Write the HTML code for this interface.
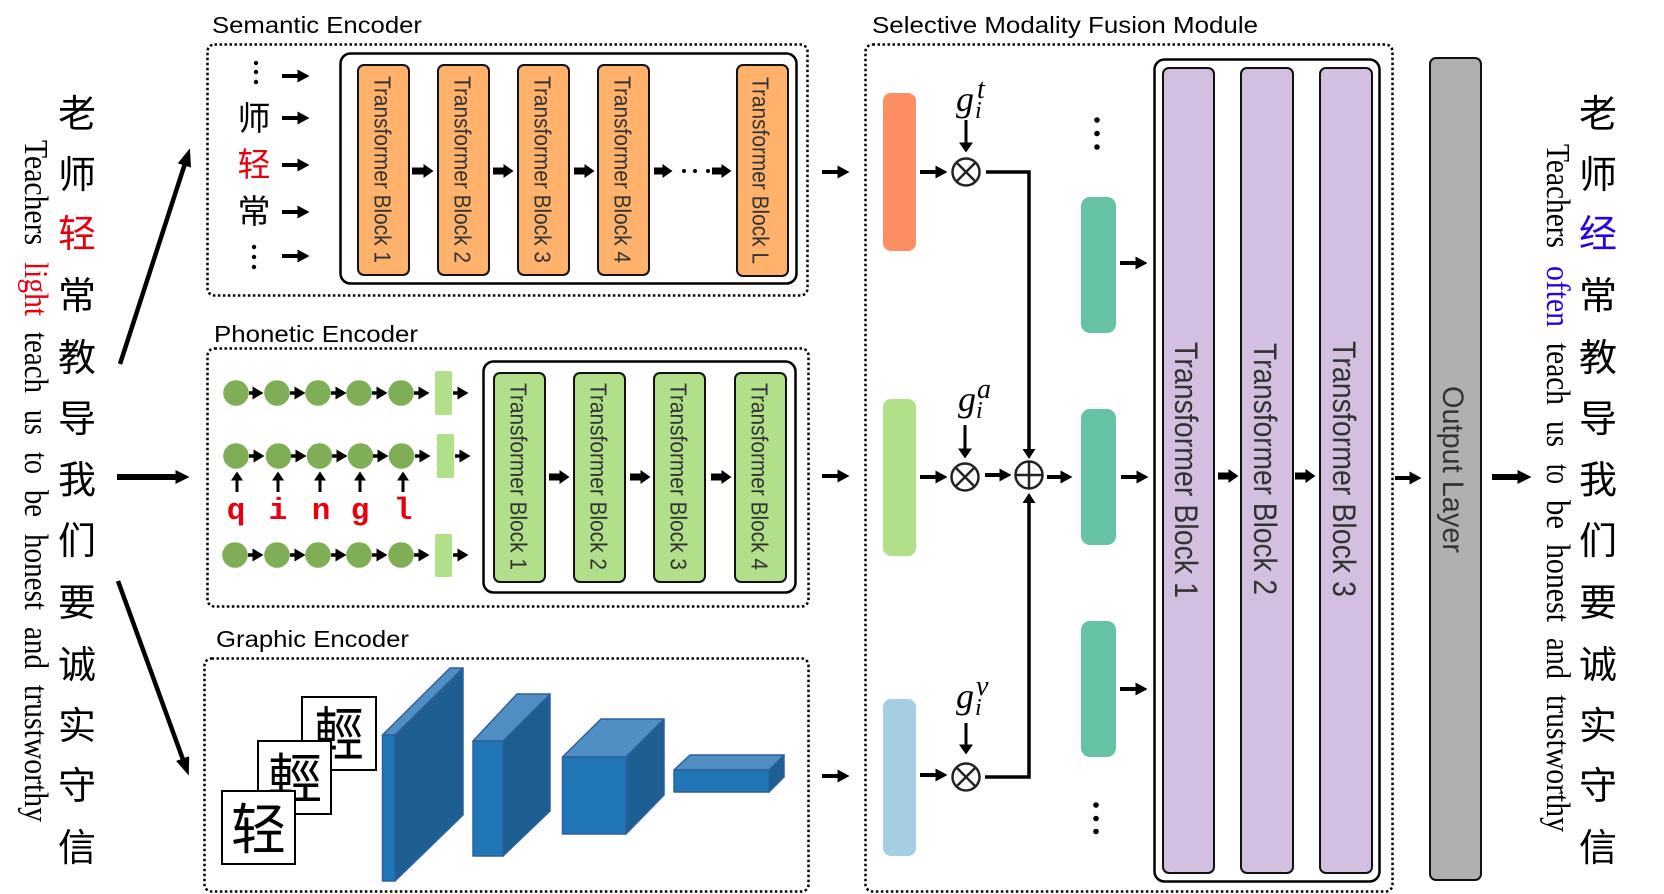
<!DOCTYPE html>
<html><head><meta charset="utf-8"><style>
html,body{margin:0;padding:0;background:#fff;width:1664px;height:894px;overflow:hidden}
svg{display:block}
.d{fill:none;stroke:#000;stroke-width:2.5;stroke-dasharray:2.5 2.5}
.o{fill:none;stroke:#000;stroke-width:2.5}
.b{stroke:#111;stroke-width:2}
.t{font-family:"Liberation Sans",sans-serif;fill:#333}
.h{font-family:"Liberation Sans",sans-serif;fill:#000;font-size:23px}
.c{font-family:"Liberation Sans","Noto Sans CJK SC",sans-serif;font-size:38px;text-anchor:middle;fill:#000}
.e{font-family:"Liberation Serif",serif;font-size:34px;fill:#000}
.m{font-family:"Liberation Serif",serif;font-style:italic;fill:#000}
.p{font-family:"Liberation Mono",monospace;font-weight:bold;font-size:31px;fill:#e8000f;text-anchor:middle}
.a{stroke:#000;stroke-width:4;marker-end:url(#a)}
.f{stroke:#000;stroke-width:7;marker-end:url(#f)}
.s{stroke:#000;stroke-width:3.500;marker-end:url(#s)}
.u{stroke:#000;stroke-width:3;marker-end:url(#u)}
.g{stroke:#000;stroke-width:3;marker-end:url(#g)}
.l{stroke:#000;stroke-width:6;marker-end:url(#l)}
.x{stroke:#000;stroke-width:4.500;marker-end:url(#x)}
.k{fill:none;stroke:#222;stroke-width:2.5}
</style></head><body>
<svg width="1664" height="894" viewBox="0 0 1664 894" xmlns="http://www.w3.org/2000/svg">
<defs>
<marker id="a" markerUnits="userSpaceOnUse" markerWidth="12" markerHeight="13" refX="0.5" refY="6.5" orient="auto"><path d="M0 0L12 6.5L0 13z"/></marker>
<marker id="f" markerUnits="userSpaceOnUse" markerWidth="10" markerHeight="14" refX="0.5" refY="7" orient="auto"><path d="M0 0L10 7L0 14z"/></marker>
<marker id="s" markerUnits="userSpaceOnUse" markerWidth="11" markerHeight="13" refX="2.5" refY="6.5" orient="auto"><path d="M0 0L11 6.5L0 13z"/></marker>
<marker id="u" markerUnits="userSpaceOnUse" markerWidth="9" markerHeight="12" refX="1.5" refY="6" orient="auto"><path d="M0 0L9 6L0 12z"/></marker>
<marker id="g" markerUnits="userSpaceOnUse" markerWidth="10" markerHeight="14" refX="1.5" refY="7" orient="auto"><path d="M0 0L10 7L0 14z"/></marker>
<marker id="l" markerUnits="userSpaceOnUse" markerWidth="14" markerHeight="14" refX="0.5" refY="7" orient="auto"><path d="M0 0L14 7L0 14z"/></marker>
<marker id="x" markerUnits="userSpaceOnUse" markerWidth="18" markerHeight="14" refX="0.5" refY="7" orient="auto"><path d="M0 0L18 7L0 14z"/></marker>
</defs>

<!-- left chinese -->
<text class="c" x="77" y="127">老</text><text class="c" x="77" y="188">师</text><text class="c" x="77" y="247" style="fill:#e8000f">轻</text><text class="c" x="77" y="309">常</text><text class="c" x="77" y="371">教</text><text class="c" x="77" y="432">导</text><text class="c" x="77" y="493">我</text><text class="c" x="77" y="554">们</text><text class="c" x="77" y="616">要</text><text class="c" x="77" y="678">诚</text><text class="c" x="77" y="739">实</text><text class="c" x="77" y="799">守</text><text class="c" x="77" y="861">信</text>
<!-- right chinese -->
<text class="c" x="1598" y="127">老</text><text class="c" x="1598" y="188">师</text><text class="c" x="1598" y="247" style="fill:#2a00e8">经</text><text class="c" x="1598" y="309">常</text><text class="c" x="1598" y="371">教</text><text class="c" x="1598" y="432">导</text><text class="c" x="1598" y="493">我</text><text class="c" x="1598" y="554">们</text><text class="c" x="1598" y="616">要</text><text class="c" x="1598" y="678">诚</text><text class="c" x="1598" y="739">实</text><text class="c" x="1598" y="799">守</text><text class="c" x="1598" y="861">信</text>

<!-- left english -->
<g class="e">
<text transform="translate(25,140) rotate(90)" textLength="105" lengthAdjust="spacingAndGlyphs">Teachers</text>
<text transform="translate(25,262) rotate(90)" textLength="54" lengthAdjust="spacingAndGlyphs" style="fill:#e8000f">light</text>
<text transform="translate(25,332) rotate(90)" textLength="61" lengthAdjust="spacingAndGlyphs">teach</text>
<text transform="translate(25,410) rotate(90)" textLength="25" lengthAdjust="spacingAndGlyphs">us</text>
<text transform="translate(25,452) rotate(90)" textLength="22" lengthAdjust="spacingAndGlyphs">to</text>
<text transform="translate(25,490) rotate(90)" textLength="27" lengthAdjust="spacingAndGlyphs">be</text>
<text transform="translate(25,534) rotate(90)" textLength="76" lengthAdjust="spacingAndGlyphs">honest</text>
<text transform="translate(25,627) rotate(90)" textLength="42" lengthAdjust="spacingAndGlyphs">and</text>
<text transform="translate(25,685) rotate(90)" textLength="137" lengthAdjust="spacingAndGlyphs">trustworthy</text>
</g>
<!-- right english -->
<g class="e">
<text transform="translate(1547,144) rotate(90)" textLength="104" lengthAdjust="spacingAndGlyphs">Teachers</text>
<text transform="translate(1547,266) rotate(90)" textLength="61" lengthAdjust="spacingAndGlyphs" style="fill:#2a00e8">often</text>
<text transform="translate(1547,343) rotate(90)" textLength="62" lengthAdjust="spacingAndGlyphs">teach</text>
<text transform="translate(1547,421) rotate(90)" textLength="26" lengthAdjust="spacingAndGlyphs">us</text>
<text transform="translate(1547,464) rotate(90)" textLength="20" lengthAdjust="spacingAndGlyphs">to</text>
<text transform="translate(1547,500) rotate(90)" textLength="29" lengthAdjust="spacingAndGlyphs">be</text>
<text transform="translate(1547,544) rotate(90)" textLength="78" lengthAdjust="spacingAndGlyphs">honest</text>
<text transform="translate(1547,638) rotate(90)" textLength="41" lengthAdjust="spacingAndGlyphs">and</text>
<text transform="translate(1547,695) rotate(90)" textLength="137" lengthAdjust="spacingAndGlyphs">trustworthy</text>
</g>

<!-- big input arrows -->
<line class="x" x1="120" y1="364" x2="184.500" y2="165"/>
<line class="l" x1="117" y1="477" x2="176" y2="477"/>
<line class="x" x1="118" y1="581" x2="182.800" y2="759"/>

<!-- titles -->
<text class="h" x="212" y="33" textLength="210" lengthAdjust="spacingAndGlyphs">Semantic Encoder</text>
<text class="h" x="214" y="342" textLength="204" lengthAdjust="spacingAndGlyphs">Phonetic Encoder</text>
<text class="h" x="216" y="647" textLength="193" lengthAdjust="spacingAndGlyphs">Graphic Encoder</text>
<text class="h" x="872" y="33" textLength="386" lengthAdjust="spacingAndGlyphs">Selective Modality Fusion Module</text>

<!-- dashed boxes -->
<rect class="d" x="207.500" y="44.500" width="600" height="251" rx="7"/>
<rect class="d" x="207.500" y="348.500" width="601" height="258" rx="7"/>
<rect class="d" x="204.500" y="658.500" width="604" height="233" rx="7"/>
<rect class="d" x="865.500" y="44.500" width="527" height="847" rx="7"/>

<!-- semantic -->
<rect class="o" x="340.500" y="53.500" width="456" height="230" rx="10"/>
<g fill="#ffb26b">
<rect class="b" x="358" y="65" width="51" height="210" rx="6"/>
<rect class="b" x="438" y="65" width="51" height="210" rx="6"/>
<rect class="b" x="518" y="65" width="51" height="210" rx="6"/>
<rect class="b" x="598" y="65" width="51" height="210" rx="6"/>
<rect class="b" x="737" y="65" width="51" height="211" rx="6"/>
</g>
<g class="t" font-size="23">
<text transform="translate(374.500,76) rotate(90)" textLength="187" lengthAdjust="spacingAndGlyphs">Transformer  Block 1</text>
<text transform="translate(454.500,76) rotate(90)" textLength="187" lengthAdjust="spacingAndGlyphs">Transformer  Block 2</text>
<text transform="translate(534.500,76) rotate(90)" textLength="187" lengthAdjust="spacingAndGlyphs">Transformer  Block 3</text>
<text transform="translate(614.500,76) rotate(90)" textLength="187" lengthAdjust="spacingAndGlyphs">Transformer  Block 4</text>
<text transform="translate(752.500,77) rotate(90)" textLength="187" lengthAdjust="spacingAndGlyphs">Transformer  Block L</text>
</g>
<line class="f" x1="412" y1="171" x2="424" y2="171"/>
<line class="f" x1="493" y1="171" x2="504" y2="171"/>
<line class="f" x1="574" y1="171" x2="585" y2="171"/>
<line class="f" x1="654" y1="171" x2="663" y2="171"/>
<line class="f" x1="712" y1="171" x2="722" y2="171"/>
<circle cx="684" cy="171" r="2"/><circle cx="695" cy="171" r="2"/><circle cx="708" cy="171" r="2"/>

<line class="a" x1="282" y1="76" x2="298" y2="76"/>
<line class="a" x1="282" y1="118" x2="298" y2="118"/>
<line class="a" x1="282" y1="165" x2="298" y2="165"/>
<line class="a" x1="282" y1="212" x2="298" y2="212"/>
<line class="a" x1="282" y1="256" x2="298" y2="256"/>
<circle cx="256" cy="63" r="2.200"/><circle cx="256" cy="72" r="2.200"/><circle cx="256" cy="82" r="2.200"/>
<circle cx="254" cy="247" r="2.200"/><circle cx="254" cy="257" r="2.200"/><circle cx="254" cy="267" r="2.200"/>
<text class="c" x="254" y="130" style="font-size:33px">师</text>
<text class="c" x="254" y="176" style="font-size:33px;fill:#e8000f">轻</text>
<text class="c" x="254" y="223" style="font-size:33px">常</text>

<!-- phonetic -->
<rect class="o" x="483.500" y="361.500" width="312" height="231" rx="10"/>
<g fill="#b2df8a">
<rect class="b" x="494" y="373" width="51" height="209" rx="6"/>
<rect class="b" x="574" y="373" width="51" height="209" rx="6"/>
<rect class="b" x="654" y="373" width="51" height="209" rx="6"/>
<rect class="b" x="735" y="373" width="51" height="209" rx="6"/>
</g>
<g class="t" font-size="23">
<text transform="translate(510.500,383) rotate(90)" textLength="187" lengthAdjust="spacingAndGlyphs">Transformer  Block 1</text>
<text transform="translate(590.500,383) rotate(90)" textLength="187" lengthAdjust="spacingAndGlyphs">Transformer  Block 2</text>
<text transform="translate(670.500,383) rotate(90)" textLength="187" lengthAdjust="spacingAndGlyphs">Transformer  Block 3</text>
<text transform="translate(751.500,383) rotate(90)" textLength="187" lengthAdjust="spacingAndGlyphs">Transformer  Block 4</text>
</g>
<line class="f" x1="549" y1="477" x2="560" y2="477"/>
<line class="f" x1="630" y1="477" x2="641" y2="477"/>
<line class="f" x1="711" y1="477" x2="722" y2="477"/>

<g fill="#7fae56">
<circle cx="236" cy="393" r="12.800"/><circle cx="277" cy="393" r="12.800"/><circle cx="318" cy="393" r="12.800"/><circle cx="359" cy="393" r="12.800"/><circle cx="401" cy="393" r="12.800"/>
<circle cx="236" cy="456" r="12.800"/><circle cx="278.500" cy="456" r="12.800"/><circle cx="319.500" cy="456" r="12.800"/><circle cx="360.500" cy="456" r="12.800"/><circle cx="401.500" cy="456" r="12.800"/>
<circle cx="235" cy="555" r="12.800"/><circle cx="277" cy="555" r="12.800"/><circle cx="318" cy="555" r="12.800"/><circle cx="359" cy="555" r="12.800"/><circle cx="401" cy="555" r="12.800"/>
</g>
<g fill="#b2df8a">
<rect x="435" y="371" width="17" height="44" rx="2"/>
<rect x="437" y="434" width="17" height="44" rx="2"/>
<rect x="435" y="534" width="17" height="43" rx="2"/>
</g>
<line class="s" x1="249" y1="393" x2="255" y2="393"/><line class="s" x1="290" y1="393" x2="297" y2="393"/><line class="s" x1="331" y1="393" x2="338" y2="393"/><line class="s" x1="372" y1="393" x2="379" y2="393"/><line class="s" x1="414" y1="393" x2="421" y2="393"/><line class="s" x1="453" y1="393" x2="460" y2="393"/>
<line class="s" x1="249" y1="456" x2="256" y2="456"/><line class="s" x1="291" y1="456" x2="298" y2="456"/><line class="s" x1="332" y1="456" x2="339" y2="456"/><line class="s" x1="373" y1="456" x2="380" y2="456"/><line class="s" x1="415" y1="456" x2="422" y2="456"/><line class="s" x1="455" y1="456" x2="462" y2="456"/>
<line class="s" x1="248" y1="555" x2="255" y2="555"/><line class="s" x1="290" y1="555" x2="297" y2="555"/><line class="s" x1="331" y1="555" x2="338" y2="555"/><line class="s" x1="372" y1="555" x2="379" y2="555"/><line class="s" x1="414" y1="555" x2="421" y2="555"/><line class="s" x1="453" y1="555" x2="460" y2="555"/>
<line class="u" x1="237" y1="492" x2="237" y2="479"/><line class="u" x1="278" y1="492" x2="278" y2="479"/><line class="u" x1="320" y1="492" x2="320" y2="479"/><line class="u" x1="360" y1="492" x2="360" y2="479"/><line class="u" x1="403" y1="492" x2="403" y2="479"/>
<text class="p" x="236" y="519">q</text><text class="p" x="278" y="519">i</text><text class="p" x="321" y="519">n</text><text class="p" x="360" y="519">g</text><text class="p" x="403" y="519">l</text>

<!-- graphic cards -->
<rect x="302" y="697" width="74" height="73" fill="#fff" stroke="#000" stroke-width="2"/>
<text class="c" transform="translate(339,755) scale(.85,1)" x="0" y="0" style="font-family:'Liberation Sans','Noto Sans CJK TC',sans-serif;font-size:58px">輕</text>
<rect x="258" y="741" width="73" height="73" fill="#fff" stroke="#000" stroke-width="2"/>
<text class="c" x="295" y="798" style="font-family:'Liberation Sans','Noto Sans CJK TC',sans-serif;font-size:54px">輕</text>
<rect x="222" y="791" width="73" height="73" fill="#fff" stroke="#000" stroke-width="2"/>
<text class="c" x="258.500" y="849" style="font-size:55px">轻</text>

<g stroke="#2f5f9e" stroke-width="1.500" stroke-linejoin="round">
<path fill="#1d5f92" d="M395 735L463 668V815L395 881z"/><path fill="#4f8fc4" d="M382.500 735H395L463 668H450z"/><rect fill="#2176b5" x="382.500" y="735" width="12.500" height="146"/>
<path fill="#1d5f92" d="M503 741L550 694V811L503 856z"/><path fill="#4f8fc4" d="M473 741H503L550 694H517z"/><rect fill="#2176b5" x="473" y="741" width="30" height="115"/>
<path fill="#1d5f92" d="M626 757L664 719V795L626 834z"/><path fill="#4f8fc4" d="M562.500 757H626L664 719H601z"/><rect fill="#2176b5" x="562.500" y="757" width="63.500" height="77"/>
<path fill="#1d5f92" d="M769 770L784 755V777L769 792z"/><path fill="#4f8fc4" d="M674 770H769L784 755H690z"/><rect fill="#2176b5" x="674" y="770" width="95" height="22"/>
</g>

<!-- to fusion -->
<line class="a" x1="822" y1="172" x2="838" y2="172"/>
<line class="a" x1="822" y1="476" x2="838" y2="476"/>
<line class="a" x1="822" y1="776" x2="838" y2="776"/>

<!-- fusion bars -->
<rect x="883" y="93" width="33" height="158" rx="8" fill="#fb8f63"/>
<rect x="883" y="399" width="33" height="157" rx="8" fill="#b2df8a"/>
<rect x="883" y="699" width="33" height="157" rx="8" fill="#a6cee3"/>
<line class="a" x1="920" y1="172" x2="936" y2="172"/>
<line class="a" x1="920" y1="477" x2="936" y2="477"/>
<line class="a" x1="920" y1="775" x2="936" y2="775"/>

<!-- g labels -->
<text class="m" x="956" y="111" font-size="36" textLength="18" lengthAdjust="spacingAndGlyphs">g</text><text class="m" x="977" y="98" font-size="28">t</text><text class="m" x="975" y="118" font-size="24">i</text>
<text class="m" x="958" y="411" font-size="36" textLength="18" lengthAdjust="spacingAndGlyphs">g</text><text class="m" x="977" y="398" font-size="28">a</text><text class="m" x="976" y="418" font-size="24">i</text>
<text class="m" x="956" y="708" font-size="36" textLength="18" lengthAdjust="spacingAndGlyphs">g</text><text class="m" x="976" y="695" font-size="28">v</text><text class="m" x="975" y="715" font-size="24">i</text>
<line class="g" x1="966" y1="120" x2="966" y2="144"/>
<line class="g" x1="965" y1="425" x2="965" y2="450"/>
<line class="g" x1="966" y1="723" x2="966" y2="746"/>

<!-- circles -->
<g>
<circle class="k" cx="966" cy="172" r="13.500"/><path class="k" d="M956.500 162.500L975.500 181.500M975.500 162.500L956.500 181.500"/>
<circle class="k" cx="965" cy="477" r="13.500"/><path class="k" d="M955.500 467.500L974.500 486.500M974.500 467.500L955.500 486.500"/>
<circle class="k" cx="966" cy="777" r="13.500"/><path class="k" d="M956.500 767.500L975.500 786.500M975.500 767.500L956.500 786.500"/>
<circle class="k" cx="1029" cy="475" r="13.500"/><path class="k" d="M1015.500 475H1042.500M1029 461.500V488.500"/>
</g>

<!-- connectors -->
<path d="M986 172H1029V452" fill="none" stroke="#000" stroke-width="3.500"/>
<path d="M1029 459l-6.500-10h13z"/>
<path d="M985 777H1029V500" fill="none" stroke="#000" stroke-width="3.500"/>
<path d="M1029 493l-6.500 10h13z"/>
<line class="a" x1="985" y1="475" x2="1000" y2="475"/>
<line class="a" x1="1047" y1="477" x2="1061" y2="477"/>

<!-- teal -->
<rect x="1081" y="197" width="35" height="136" rx="9" fill="#66c2a5"/>
<rect x="1081" y="409" width="35" height="136" rx="9" fill="#66c2a5"/>
<rect x="1081" y="621" width="35" height="136" rx="9" fill="#66c2a5"/>
<circle cx="1097" cy="120" r="2.800"/><circle cx="1097" cy="133.500" r="2.800"/><circle cx="1097" cy="147" r="2.800"/>
<circle cx="1096" cy="805" r="2.800"/><circle cx="1096" cy="818.500" r="2.800"/><circle cx="1096" cy="831.500" r="2.800"/>
<line class="a" x1="1120" y1="263" x2="1136" y2="263"/>
<line class="a" x1="1121" y1="477" x2="1137" y2="477"/>
<line class="a" x1="1120" y1="689" x2="1136" y2="689"/>

<!-- purple -->
<rect class="o" x="1154.500" y="59.500" width="225" height="822" rx="10"/>
<g fill="#d3bfdf">
<rect class="b" x="1163" y="68" width="51" height="805" rx="6"/>
<rect class="b" x="1241" y="68" width="52" height="805" rx="6"/>
<rect class="b" x="1320" y="68" width="52" height="805" rx="6"/>
</g>
<g class="t" font-size="32">
<text transform="translate(1175,342) rotate(90)" textLength="256" lengthAdjust="spacingAndGlyphs">Transformer  Block 1</text>
<text transform="translate(1254,343) rotate(90)" textLength="252" lengthAdjust="spacingAndGlyphs">Transformer  Block 2</text>
<text transform="translate(1333,341) rotate(90)" textLength="256" lengthAdjust="spacingAndGlyphs">Transformer  Block 3</text>
</g>
<line class="f" x1="1218" y1="476" x2="1229" y2="476"/>
<line class="f" x1="1295" y1="476" x2="1306" y2="476"/>

<!-- output -->
<rect class="b" x="1430" y="58" width="51" height="822" rx="6" fill="#b0b0b0"/>
<text class="t" font-size="30" transform="translate(1443,386) rotate(90)" textLength="167" lengthAdjust="spacingAndGlyphs">Output Layer</text>
<line class="a" x1="1395" y1="478" x2="1410" y2="478"/>
<line class="l" x1="1492" y1="477" x2="1518" y2="477"/>
</svg>
</body></html>
